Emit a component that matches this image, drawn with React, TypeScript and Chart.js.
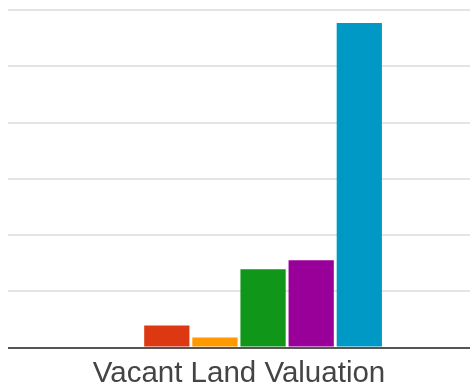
import React, { useEffect, useRef } from "react";
import { Chart, registerables } from "chart.js";

Chart.register(...registerables);

const categories = ["Vacant Land Valuation"];
const seriesNames = ["Series A", "Series B", "Series C", "Series D", "Series E", "Series F"];
const seriesValues = [[0], [7800], [3600], [27800], [31000], [115400]];
const seriesColors = ["#3366cc", "#dc3912", "#ff9900", "#109618", "#990099", "#0099c6"];
const yMax = 120000;
const yStep = 20000;

export default function App() {
  const ref = useRef<HTMLCanvasElement | null>(null);
  useEffect(() => {
    if (!ref.current) return;
    const chart = new Chart(ref.current, {
      type: "bar",
      data: {
        labels: categories,
        datasets: seriesNames.map((name, i) => ({
          label: name,
          data: seriesValues[i],
          backgroundColor: seriesColors[i],
          borderWidth: 0,
          categoryPercentage: 0.625,
          barPercentage: 0.94,
        })),
      },
      options: {
        animation: false,
        responsive: true,
        maintainAspectRatio: false,
        layout: { padding: { top: 10, bottom: -6, left: 0, right: 0 } },
        plugins: { legend: { display: false }, tooltip: { enabled: false } },
        scales: {
          x: {
            grid: { display: false },
            border: { display: true, color: "#555555", width: 2 },
            ticks: {
              color: "#444444",
              padding: 4,
              font: { family: "'Liberation Sans', Arial, sans-serif", size: 29.5, lineHeight: 1 },
            },
          },
          y: {
            min: 0,
            max: yMax,
            ticks: { display: false, stepSize: yStep },
            grid: { color: "#e4e4e4", lineWidth: 2, drawTicks: false },
            border: { display: false },
          },
        },
      },
    });
    return () => chart.destroy();
  }, []);
  return (
    <div style={{ position: "absolute", left: 8, top: 0, width: 462, height: 387 }}>
      <canvas ref={ref} />
    </div>
  );
}
